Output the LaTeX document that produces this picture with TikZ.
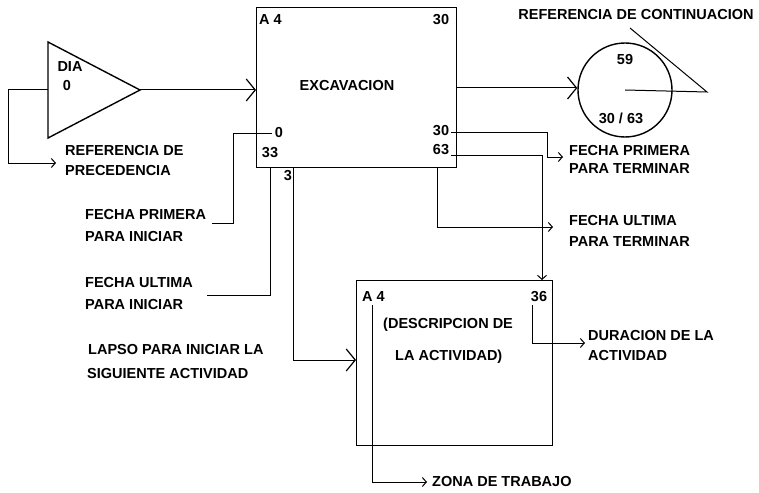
\documentclass[tikz,border=0pt]{standalone}
\usepackage{fontspec}
\setmainfont{Liberation Sans}
\usetikzlibrary{arrows.meta}
\begin{document}
\begin{tikzpicture}[x=1pt,y=-1pt,
  lbl/.style={font=\fontsize{14.5}{16}\selectfont\bfseries, inner sep=0pt, anchor=west},
  num/.style={font=\fontsize{14.5}{16}\selectfont\bfseries, inner sep=0pt},
  ln/.style={line width=1pt},
  big/.style={ln,-{Straight Barb[length=9pt,width=22pt,line width=1.2pt]}},
  small/.style={ln,-{Straight Barb[length=4pt,width=9pt]}},
  box/.style={draw, line width=1.4pt, inner sep=0pt}]
\useasboundingbox (0,0) rectangle (759,492);

% triangle (DIA)
\coordinate (tT) at (48,42);
\coordinate (tB) at (48,138);
\coordinate (tA) at (140,90);
\draw[line width=1.4pt] (tT) -- (tA) -- (tB) -- cycle;
\coordinate (tL) at (48,90);
\node[num] (dia) at (70,67) {DIA};
\node[num] (dia0) at (67,86) {0};

% boxes
\node[box, minimum width=200pt, minimum height=160pt, anchor=north west] (b1) at (256,7) {};
\node[box, minimum width=196pt, minimum height=165pt, anchor=north west] (b2) at (356,280) {};
\node[draw, circle, line width=1.4pt, minimum size=94pt, inner sep=0pt] (c) at (625,90) {};

% box1 texts
\node[lbl] (a4) at (259,20) {A 4};
\node[num] (b1tr) at (441,20) {30};
\node[num] (exc) at (347,86) {EXCAVACION};
\node[num] (n0) at (279,133) {0};
\node[num] (n33) at (270,153) {33};
\node[num] (n30) at (441,131) {30};
\node[num] (n63) at (441,150) {63};
\node[num] (n3) at (288,176) {3};

% circle texts
\node[num] (c59) at (625,60) {59};
\node[num] (c3063) at (621,118) {30 / 63};
\node[num] (refc) at (636,15) {REFERENCIA DE CONTINUACION};

% box2 texts
\node[lbl] (a4b) at (362,297) {A 4};
\node[num] (n36) at (539,297) {36};
\node[lbl] (desc1) at (383,325) {(DESCRIPCION DE};
\node[lbl] (desc2) at (395,357) {LA ACTIVIDAD)};

% labels
\node[lbl] (refp1) at (65,151) {REFERENCIA DE};
\node[lbl] (refp2) at (65,171) {PRECEDENCIA};
\node[lbl] (fpi1) at (85,215) {FECHA PRIMERA};
\node[lbl] (fpi2) at (85,237) {PARA INICIAR};
\node[lbl] (fui1) at (85,283) {FECHA ULTIMA};
\node[lbl] (fui2) at (85,305) {PARA INICIAR};
\node[lbl] (lap1) at (88,350) {LAPSO PARA INICIAR LA};
\node[lbl] (lap2) at (87,374) {SIGUIENTE ACTIVIDAD};
\node[lbl] (fpt1) at (569,151) {FECHA PRIMERA};
\node[lbl] (fpt2) at (569,169) {PARA TERMINAR};
\node[lbl] (fut1) at (569,221) {FECHA ULTIMA};
\node[lbl] (fut2) at (569,242) {PARA TERMINAR};
\node[lbl] (dur1) at (588,336) {DURACION DE LA};
\node[lbl] (dur2) at (588,356) {ACTIVIDAD};
\node[lbl] (zona) at (432,482) {ZONA DE TRABAJO};

% main arrows
\draw[big] (tA) -- (tA -| b1.west);
\draw[big] (b1.east |- 0,88) -- (c.west |- 0,88);
\draw[big] (n3.east |- b1.south) ++(1,0) coordinate (l3) -- (l3 |- 0,360) -- (b2.west |- 0,360);

% continuation reference
\coordinate (rcTip) at (707,92);
\coordinate (rcTop) at (630,28);
\draw[ln] (c.center) -- (rcTip) -- (rcTop);

% precedence loop
\draw[small] (tL) -- (8,90) -- (8,163) -- (56,163);

% fecha primera para iniciar
\draw[ln] (n0.west |- 0,133) ++(-3,0) -- (233,133) -- (233,223) -- (212,223);
% fecha ultima para iniciar
\draw[ln] (n33 |- b1.south) -- (270,295) -- (207,295);

% fecha primera para terminar
\draw[small] (n30.east |- 0,132) ++(2,0) -- (547,132) -- (547,157) -- (563,157);
% 63 down to box2
\draw[small] (n63.east |- 0,155) ++(2,0) -- (542,155) -- (b2.north -| 542,0);
% fecha ultima para terminar
\draw[small] (b1.south -| 437,0) -- (437,227) -- (553,227);

% duracion
\draw[small] (532,305) -- (532,343) -- (585,343);
% zona de trabajo
\draw[small] (372,305) -- (372,482) -- (427,482);
\end{tikzpicture}
\end{document}
